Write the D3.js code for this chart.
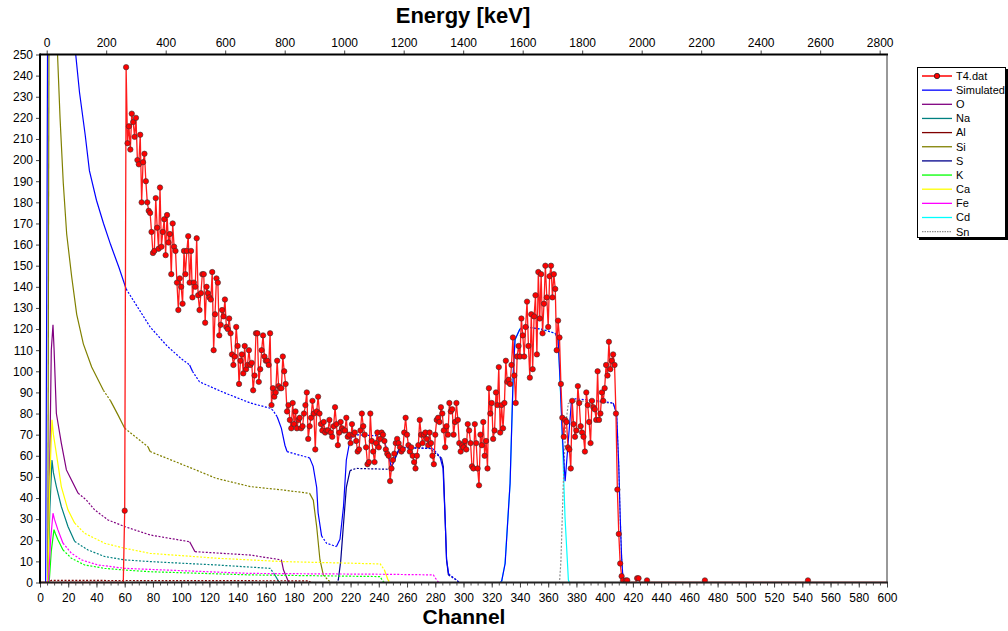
<!DOCTYPE html>
<html>
<head>
<meta charset="utf-8">
<script src="https://cdn.jsdelivr.net/npm/d3@7"></script>
<style>
  body { margin: 0; background: #fff; }
  svg { display: block; font-family: "Liberation Sans", Arial, sans-serif; }
</style>
</head>
<body>
<div class="container"></div>
<script>
// measured spectrum T4.dat, one value per channel starting at channel 60
let firstChannel = 60
let counts = [
  34, 244, 208, 216, 205, 222, 218, 211, 220, 200, 198, 212, 180, 199, 203, 190, 180, 176, 175, 166,
  156, 157, 182, 168, 158, 187, 159, 166, 172, 155, 174, 161, 165, 146, 170, 159, 157, 142, 129, 144,
  140, 132, 157, 146, 157, 164, 142, 157, 135, 142, 140, 163, 136, 129, 137, 146, 146, 123, 140, 137,
  135, 134, 147, 110, 127, 144, 142, 117, 122, 129, 126, 134, 121, 120, 125, 118, 108, 103, 107, 121,
  112, 94, 105, 108, 99, 112, 101, 103, 110, 103, 104, 91, 98, 118, 118, 95, 101, 110, 117, 107,
  105, 105, 103, 118, 84, 92, 88, 90, 105, 93, 92, 92, 107, 100, 94, 81, 84, 77, 73, 85,
  75, 81, 73, 77, 78, 73, 74, 80, 84, 90, 68, 74, 78, 86, 80, 63, 81, 88, 80, 75,
  72, 76, 71, 72, 72, 77, 71, 69, 74, 83, 75, 65, 71, 76, 73, 72, 72, 78, 69, 70,
  66, 75, 70, 71, 67, 62, 63, 72, 80, 74, 70, 64, 56, 57, 80, 67, 62, 57, 66, 71,
  64, 68, 71, 70, 67, 63, 61, 60, 48, 54, 58, 61, 66, 68, 66, 64, 62, 63, 71, 78,
  70, 65, 62, 64, 60, 57, 54, 60, 65, 77, 70, 66, 70, 71, 68, 65, 71, 66, 60, 56,
  70, 77, 78, 76, 83, 80, 72, 64, 74, 70, 85, 81, 82, 70, 76, 85, 77, 66, 62, 65,
  64, 67, 63, 75, 72, 66, 55, 54, 75, 66, 54, 46, 70, 65, 76, 60, 67, 54, 92, 80,
  85, 68, 72, 90, 84, 102, 71, 84, 73, 85, 105, 95, 96, 94, 103, 116, 98, 85, 107, 112,
  107, 125, 117, 107, 121, 133, 112, 97, 127, 101, 126, 136, 108, 147, 125, 146, 118, 132, 150, 135,
  121, 145, 150, 135, 146, 139, 110, 124, 116, 94, 78, 69, 77, 76, 64, 63, 54, 86, 75, 69,
  72, 93, 85, 74, 71, 69, 62, 90, 84, 76, 66, 86, 83, 82, 77, 100, 77, 80, 90, 86,
  92, 103, 98, 114, 101, 105, 108, 103, 80, 44, 23, 9, 3, 1, 0, 1, 1, 0, 0, 0,
  0, 0, 0, 2, 2, 0, 0, 0, 0, 0, 1
]
// isolated counts further out
let tailChannels = [471, 544]
let tailCounts = [1, 1]

// simulated total and element contributions, [channel, counts]
let simulated = [[0,0],[4,0],[5,180],[6,400],[24,260],[25,252],[28,232],[32,212],[35,195],[40,181],[45,170],[50,160],[56,149],[61,139],[78,121],[90,112],[100,106],[106,103],[108,100],[111,97],[113,95],[130,90],[149,85],[163,82.5],[165,81.5],[168,78.5],[171,73],[173.5,65],[175,62],[180,61],[191,59],[193.5,55],[196,45],[197,33],[199.5,22],[203,18.6],[210,17],[212.5,20.5],[215,36],[217,58],[219.5,67],[222,70],[238,69.5],[244,67],[246,62],[249,54.5],[252,60],[255,64],[278,63.5],[283.3,59.6],[285.5,54],[287,30],[288,11],[289.5,4],[295,1.2],[297,0],[326,0],[327,0.5],[329.5,9],[333,47],[335.3,100],[336.5,115],[340,120],[344,121],[355,120],[365,118],[367,115],[368.5,95],[370,70],[372,48],[374,65],[376.5,86],[379,87],[395,86],[406,85],[408.5,80],[410,55],[411,31],[412,12],[413,1.5],[414,0],[600,0]]
let oxygen = [[0,0],[5.5,0],[7,60],[8,110],[9.2,122],[10,110],[11.6,80],[15.1,66],[18.7,53.3],[22.2,48.6],[27,42.3],[32.8,39.1],[38.7,34.4],[48.2,29.6],[60,26.5],[78,22.5],[106,19.3],[109.8,14.6],[149,13],[171,10.7],[172.5,5.9],[176,0.4],[177,0],[600,0]]
let sodium = [[0,0],[5.5,0],[7,35],[8.5,58],[9.5,52],[11.6,45.4],[15.1,36],[19.8,26.5],[24.6,19.4],[34,15.4],[45.8,12.3],[60,10.7],[78,9.9],[125,8.3],[163,6.7],[165.5,4.5],[168.8,0.8],[170,0],[600,0]]
let aluminium = [[0,0],[6,0],[8,1],[190,0.8],[192,0],[600,0]]
let silicon = [[0,0],[5.5,0],[6.5,300],[11,300],[12.3,252],[14.2,220],[16.5,189],[18.9,165],[22.4,145],[26,127],[30.7,113],[36.6,102],[44.9,91],[50,86],[55.5,79],[60,73],[76.5,64.3],[78,62],[101.5,55.7],[125,49.3],[149,45.4],[172,43.8],[191,42.2],[193.6,39],[196,26.4],[198.3,10.8],[200.7,3.6],[204,1.2],[206,0],[600,0]]
let sulfur = [[0,0],[210,0],[211.3,1.2],[213,10],[214.8,26],[217,45],[219.6,53],[224,54],[248,53.6],[250,56.4],[255,63.8],[276,63.5],[284.5,58.8],[285.7,54.8],[287,30],[288,10.7],[289.3,3.6],[295,1.2],[297,0],[600,0]]
let potassium = [[0,0],[6.5,0],[8,15],[9.9,25],[11,23],[12.7,20.2],[16.3,15.4],[22.2,11.5],[31.6,8.3],[45.8,6.7],[60,5.9],[78,5.1],[149,3.6],[240.8,2.8],[243.2,0.4],[244,0],[600,0]]
let calcium = [[0,0],[5.5,0],[7,50],[8.5,77],[9.5,70],[11.6,61],[15.1,45.4],[19.8,34.4],[24.6,28.1],[31.6,23.3],[45.8,18.6],[60,16.2],[78,13.8],[125,11.5],[172,9.9],[241,8.8],[244,5.9],[246.5,1.2],[248,0],[600,0]]
let iron = [[0,0],[6,0],[7.5,20],[9.2,32.8],[10.2,30],[12.7,24.9],[16.3,18.6],[22.2,13.9],[29.3,10.7],[41.1,8.3],[60,6.7],[78,6.2],[149,4.3],[243,3.9],[278.6,3.6],[281,1.2],[282.5,0],[600,0]]
let cadmium = [[0,0],[326,0],[327,0.4],[329.4,9],[333,47],[335.3,100.6],[336.5,114.8],[340,120.3],[343.6,121],[355,120],[364.8,118],[367.2,114.8],[368.4,94],[369.5,78.5],[371.9,31],[374.3,1.2],[375,0],[600,0]]
let tin = [[0,0],[368,0],[369,10],[370.7,47],[372.5,75],[374.2,84.8],[380,86],[395,85.5],[406,84.8],[408.5,80],[410,55],[411,31],[412,12],[413,1.5],[414,0],[600,0]]

let legendNames = ['T4.dat', 'Simulated', 'O', 'Na', 'Al', 'Si', 'S', 'K', 'Ca', 'Fe', 'Cd', 'Sn']
let legendColors = ['#ff0000', '#0000ff', '#800080', '#008080', '#800000', '#808000', '#00008b', '#00ff00', '#ffff00', '#ff00ff', '#00ffff', '#909090']
let curves = [simulated, oxygen, sodium, aluminium, silicon, sulfur, potassium, calcium, iron, cadmium, tin]

let channelTicks = d3.range(0, 601, 20)
let countTicks = d3.range(0, 251, 10)
let energyTicks = d3.range(0, 2801, 200)

let width = 1008
let height = 631
let plot = { left: 40, right: 887, top: 54.5, bottom: 582.5 }

let x = d3.scaleLinear().domain([0, 600]).range([plot.left, plot.right])
let y = d3.scaleLinear().domain([0, 250]).range([plot.bottom, plot.top])
let xEnergy = d3.scaleLinear().domain([0, 2800]).range([x(4.75), x(594.8)])

let svg = d3.select('.container')
    .append('svg')
    .attr('width', width)
    .attr('height', height)

svg.append('clipPath')
    .attr('id', 'plotclip')
    .append('rect')
    .attr('x', plot.left)
    .attr('y', plot.top)
    .attr('width', plot.right - plot.left)
    .attr('height', plot.bottom - plot.top + 1)

let area = svg.append('g').attr('clip-path', 'url(#plotclip)')

// flat stretches of the simulated curves look dotted in the original, steep ones solid
function drawCurve(points, color, dotted) {
    let px = points.map(p => [x(p[0]), y(p[1])])
    let runs = []
    let run = null
    for (let i = 1; i < px.length; i++) {
        let dx = px[i][0] - px[i - 1][0]
        let dy = px[i][1] - px[i - 1][1]
        let flat = dotted || Math.abs(dy) < 1.6 * Math.abs(dx)
        if (!run || run.flat !== flat) {
            run = { flat: flat, pts: [px[i - 1]] }
            runs.push(run)
        }
        run.pts.push(px[i])
    }
    runs.forEach(r => {
        area.append('path')
            .attr('d', d3.line()(r.pts))
            .attr('fill', 'none')
            .attr('stroke', color)
            .attr('stroke-width', 1.2)
            .attr('stroke-dasharray', r.flat ? '2,1.6' : null)
    })
}

curves.slice(1).forEach((c, i) => {
    drawCurve(c, legendColors[i + 2], legendNames[i + 2] === 'Sn')
})
drawCurve(simulated, legendColors[1], false)

// measured data
let dataPoints = d3.range(0, 601).map(ch => {
    let v = 0
    if (ch >= firstChannel && ch < firstChannel + counts.length) v = counts[ch - firstChannel]
    let t = tailChannels.indexOf(ch)
    if (t >= 0) v = tailCounts[t]
    return [ch, v]
})

area.append('path')
    .datum(dataPoints)
    .attr('d', d3.line().x(d => x(d[0])).y(d => y(d[1])))
    .attr('fill', 'none')
    .attr('stroke', '#ff1a1a')
    .attr('stroke-width', 1.3)

area.selectAll('circle')
    .data(dataPoints.filter(d => d[0] >= firstChannel && d[1] > 0))
    .enter()
    .append('circle')
    .attr('cx', d => x(d[0]))
    .attr('cy', d => y(d[1]))
    .attr('r', 2.7)
    .attr('fill', '#ff0000')
    .attr('stroke', '#333')
    .attr('stroke-width', 0.6)

// axes
let xAxis = d3.axisBottom(x).tickValues(channelTicks).tickSize(5).tickSizeOuter(0).tickPadding(6)
let xMinor = d3.axisBottom(x).tickValues(d3.range(0, 601, 5)).tickSize(3).tickSizeOuter(0).tickFormat('')
let yAxis = d3.axisLeft(y).tickValues(countTicks).tickSize(4).tickSizeOuter(0).tickPadding(3)
let eAxis = d3.axisTop(xEnergy).tickValues(energyTicks).tickSize(4).tickSizeOuter(0).tickPadding(4)
    .tickFormat(d3.format('d'))

svg.append('g')
    .attr('transform', `translate(0,${plot.bottom})`)
    .call(xMinor)
    .call(g => g.select('.domain').remove())
    .selectAll('line').attr('stroke', '#555')

svg.append('g')
    .attr('class', 'x axis')
    .attr('transform', `translate(0,${plot.bottom})`)
    .call(xAxis)
    .call(g => g.select('.domain').remove())

svg.append('g')
    .attr('class', 'y axis')
    .attr('transform', `translate(${plot.left},0)`)
    .call(yAxis)
    .call(g => g.select('.domain').remove())

svg.append('g')
    .attr('class', 'e axis')
    .attr('transform', `translate(0,${plot.top})`)
    .call(eAxis)
    .call(g => g.select('.domain').remove())

svg.selectAll('.axis text')
    .style('font-size', '12px')
    .style('font-family', '"Liberation Sans", Arial, sans-serif')
    .attr('fill', '#000')
svg.selectAll('.axis line').attr('stroke', '#444')

// frame
svg.append('line').attr('x1', plot.left).attr('x2', plot.right + 1).attr('y1', plot.bottom).attr('y2', plot.bottom)
    .attr('stroke', '#222').attr('stroke-width', 2)
svg.append('line').attr('x1', plot.left).attr('x2', plot.right + 1).attr('y1', plot.top).attr('y2', plot.top)
    .attr('stroke', '#000').attr('stroke-width', 2)
svg.append('line').attr('x1', plot.left).attr('x2', plot.left).attr('y1', plot.top - 1).attr('y2', plot.bottom + 1)
    .attr('stroke', '#000').attr('stroke-width', 2)
svg.append('line').attr('x1', plot.right).attr('x2', plot.right).attr('y1', plot.top).attr('y2', plot.bottom)
    .attr('stroke', '#333').attr('stroke-width', 1)

// titles
svg.append('text')
    .attr('x', 463)
    .attr('y', 22.5)
    .attr('text-anchor', 'middle')
    .style('font-size', '22px')
    .style('font-weight', 'bold')
    .text('Energy [keV]')

svg.append('text')
    .attr('x', 464)
    .attr('y', 624)
    .attr('text-anchor', 'middle')
    .style('font-size', '21px')
    .style('font-weight', 'bold')
    .text('Channel')

// legend
let legend = svg.append('g').attr('transform', 'translate(917,67)')
legend.append('rect')
    .attr('x', 2).attr('y', 2).attr('width', 89).attr('height', 171)
    .attr('fill', '#000')
legend.append('rect')
    .attr('x', 0.5).attr('y', 0.5).attr('width', 88).attr('height', 170)
    .attr('fill', '#fff').attr('stroke', '#000')

let rows = legend.selectAll('.row')
    .data(legendNames)
    .enter()
    .append('g')
    .attr('class', 'row')
    .attr('transform', (d, i) => `translate(0,${9 + i * 14.15})`)

rows.append('line')
    .attr('x1', 5).attr('x2', 35).attr('y1', 0).attr('y2', 0)
    .attr('stroke', (d, i) => legendColors[i])
    .attr('stroke-width', (d, i) => i === 0 ? 1.5 : 1.3)
    .attr('stroke-dasharray', d => d === 'Sn' ? '1.5,1' : null)

rows.filter((d, i) => i === 0)
    .append('circle')
    .attr('cx', 20).attr('cy', 0).attr('r', 2.7)
    .attr('fill', '#ff0000').attr('stroke', '#222').attr('stroke-width', 0.8)

rows.append('text')
    .attr('x', 39)
    .attr('y', 0)
    .attr('dy', '0.35em')
    .style('font-size', '11px')
    .text(d => d)
</script>
</body>
</html>
